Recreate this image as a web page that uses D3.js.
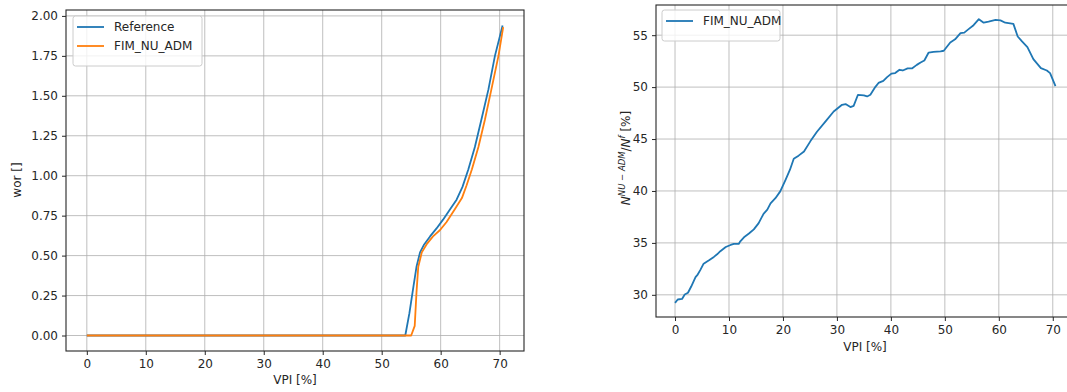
<!DOCTYPE html>
<html>
<head>
  <meta charset="utf-8">
  <title>wor / VPI</title>
  <script src="https://cdn.jsdelivr.net/npm/d3@7/dist/d3.min.js"></script>
  <style>
    body { margin: 0; background: #fff; }
    svg { display: block; font-family: "DejaVu Sans", sans-serif; }
  </style>
</head>
<body>
<svg id="mainsvg" width="1067" height="392"></svg>
<script>
  // left panel: wor vs VPI
  const refVPI = [0, 54.0, 54.7, 55.4, 55.9, 56.5, 57.2, 58.2, 59.3, 60.4, 61.6, 62.7, 63.7, 64.7, 65.8, 66.9, 68.1, 69.2, 70.5];
  const refWor = [0, 0, 0.14, 0.31, 0.43, 0.52, 0.57, 0.62, 0.67, 0.725, 0.79, 0.85, 0.93, 1.04, 1.18, 1.35, 1.54, 1.75, 1.94];
  const admVPI = [0, 55.0, 55.6, 55.9, 56.2, 56.8, 57.6, 58.7, 59.9, 61.0, 62.4, 63.6, 64.4, 65.3, 66.4, 67.5, 68.6, 69.8, 70.6];
  const admWor = [0, 0, 0.06, 0.27, 0.43, 0.52, 0.57, 0.62, 0.66, 0.71, 0.79, 0.86, 0.94, 1.04, 1.18, 1.35, 1.54, 1.75, 1.93];

  // right panel: N^NU-ADM / N^f vs VPI
  const ratioVPI = [0, 0.5, 1.3, 1.8, 2.4, 3.0, 3.8, 4.2, 4.7, 5.3, 6.3, 7.2, 7.8, 8.4, 9.4, 10.3, 10.9, 11.8, 12.1,
    12.9, 13.7, 14.6, 15.5, 16.4, 17.1, 17.7, 18.6, 19.5, 20.5, 21.3, 22.0, 22.9, 23.9, 25.1, 26.3, 27.9, 29.4,
    30.95, 31.6, 32.5, 33.1, 33.9, 35.0, 35.6, 36.2, 37.1, 37.7, 38.6, 39.3, 40.1, 40.8, 41.6, 42.2, 43.1, 43.9,
    44.8, 45.5, 46.2, 47.0, 47.9, 49.2, 49.8, 51.0, 51.9, 52.9, 53.6, 54.4, 55.2, 56.3, 57.2, 58.1, 59.4, 60.3,
    61.2, 62.7, 63.5, 64.3, 65.3, 66.4, 67.8, 68.9, 69.5, 70.5];
  const ratioPct = [29.23, 29.55, 29.6, 30.03, 30.2, 30.8, 31.7, 31.95, 32.4, 33.0, 33.33, 33.65, 33.9, 34.2, 34.6, 34.8, 34.9, 34.9, 35.15,
    35.6, 35.9, 36.3, 36.9, 37.8, 38.2, 38.8, 39.3, 39.96, 41.1, 42.05, 43.1, 43.4, 43.8, 44.8, 45.7, 46.7, 47.65,
    48.3, 48.37, 48.08, 48.2, 49.26, 49.2, 49.1, 49.26, 50.0, 50.4, 50.6, 50.96, 51.3, 51.35, 51.67, 51.6, 51.8, 51.8,
    52.14, 52.37, 52.56, 53.33, 53.4, 53.45, 53.5, 54.3, 54.6, 55.2, 55.25, 55.58, 55.9, 56.54, 56.2, 56.3, 56.47, 56.43,
    56.2, 56.09, 54.87, 54.4, 53.85, 52.7, 51.83, 51.6, 51.35, 50.1];

  const xTicks = [0, 10, 20, 30, 40, 50, 60, 70];
  const leftYTicks = [0, 0.25, 0.5, 0.75, 1.0, 1.25, 1.5, 1.75, 2.0];
  const rightYTicks = [30, 35, 40, 45, 50, 55];

  const C0 = '#1f77b4', C1 = '#ff7f0e';
  const svg = d3.select('#mainsvg');

  // matplotlib-style 5% padding
  function padded(vals) {
    const [a, b] = d3.extent(vals);
    const m = (b - a) * 0.05;
    return [a - m, b + m];
  }

  function panel(box, xVals, yVals, yTicks, yFmt) {
    const g = svg.append('g');
    const x = d3.scaleLinear().domain(padded(xVals)).range([box.left, box.right]);
    const y = d3.scaleLinear().domain(padded(yVals)).range([box.bottom, box.top]);

    // grid
    g.append('g').selectAll('line').data(xTicks).join('line')
      .attr('x1', d => x(d)).attr('x2', d => x(d))
      .attr('y1', box.top).attr('y2', box.bottom)
      .attr('stroke', '#b0b0b0').attr('stroke-width', 1).attr('opacity', 0.8);
    g.append('g').selectAll('line').data(yTicks).join('line')
      .attr('x1', box.left).attr('x2', box.right)
      .attr('y1', d => y(d)).attr('y2', d => y(d))
      .attr('stroke', '#b0b0b0').attr('stroke-width', 1).attr('opacity', 0.8);

    // axes
    const xa = g.append('g').attr('transform', `translate(0,${box.bottom})`)
      .call(d3.axisBottom(x).tickValues(xTicks).tickSize(4).tickPadding(4).tickFormat(d3.format('d')));
    const ya = g.append('g').attr('transform', `translate(${box.left},0)`)
      .call(d3.axisLeft(y).tickValues(yTicks).tickSize(4).tickPadding(4).tickFormat(yFmt));
    [xa, ya].forEach(a => {
      a.select('.domain').remove();
      a.selectAll('text').attr('font-size', 12).attr('fill', '#262626')
        .attr('font-family', '"DejaVu Sans", sans-serif');
      a.selectAll('line').attr('stroke', '#262626');
    });

    // frame
    g.append('rect')
      .attr('x', box.left).attr('y', box.top)
      .attr('width', box.right - box.left).attr('height', box.bottom - box.top)
      .attr('fill', 'none').attr('stroke', '#262626').attr('stroke-width', 1.1);

    return { g, x, y };
  }

  function drawLine(p, xs, ys, color) {
    const pts = xs.map((v, i) => [v, ys[i]]);
    p.g.append('path').datum(pts)
      .attr('fill', 'none').attr('stroke', color).attr('stroke-width', 1.8)
      .attr('stroke-linejoin', 'round')
      .attr('d', d3.line().x(d => p.x(d[0])).y(d => p.y(d[1])));
  }

  function legend(g, x, y, w, items) {
    const h = 12 + items.length * 19;
    g.append('rect').attr('x', x).attr('y', y).attr('width', w).attr('height', h)
      .attr('rx', 2.5).attr('fill', '#fff').attr('fill-opacity', 0.8)
      .attr('stroke', '#cccccc').attr('stroke-width', 1);
    items.forEach((it, i) => {
      const cy = y + 11 + i * 19;
      g.append('line').attr('x1', x + 4).attr('x2', x + 31).attr('y1', cy).attr('y2', cy)
        .attr('stroke', it.color).attr('stroke-width', 1.8);
      g.append('text').attr('x', x + 41).attr('y', cy).attr('dy', '0.35em')
        .attr('font-size', 12).attr('fill', '#262626').text(it.label);
    });
  }

  // ---- left panel
  const left = panel({ left: 66, right: 524, top: 10, bottom: 351 },
    refVPI.concat(admVPI), refWor.concat(admWor), leftYTicks, d3.format('.2f'));
  drawLine(left, refVPI, refWor, C0);
  drawLine(left, admVPI, admWor, C1);
  legend(left.g, 73, 16, 129, [{ label: 'Reference', color: C0 }, { label: 'FIM_NU_ADM', color: C1 }]);

  svg.append('text').attr('x', 295).attr('y', 384).attr('text-anchor', 'middle')
    .attr('font-size', 12).attr('fill', '#262626').text('VPI [%]');
  svg.append('text').attr('transform', 'translate(21,180) rotate(-90)').attr('text-anchor', 'middle')
    .attr('font-size', 12).attr('fill', '#262626').text('wor []');

  // ---- right panel (spills past the window edge, as in the source)
  const right = panel({ left: 656, right: 1074.5, top: 5, bottom: 317 },
    ratioVPI, ratioPct, rightYTicks, d3.format('d'));
  drawLine(right, ratioVPI, ratioPct, C0);
  legend(right.g, 662, 10, 118, [{ label: 'FIM_NU_ADM', color: C0 }]);

  svg.append('text').attr('x', 865).attr('y', 351).attr('text-anchor', 'middle')
    .attr('font-size', 12).attr('fill', '#262626').text('VPI [%]');

  const yl = svg.append('text').attr('transform', 'translate(630,158) rotate(-90)')
    .attr('text-anchor', 'middle').attr('font-size', 12).attr('fill', '#262626');
  yl.append('tspan').attr('font-style', 'italic').text('N');
  yl.append('tspan').attr('font-style', 'italic').attr('font-size', 8.5).attr('dy', -5).text('NU − ADM');
  yl.append('tspan').attr('dy', 5).text('/');
  yl.append('tspan').attr('font-style', 'italic').text('N');
  yl.append('tspan').attr('font-style', 'italic').attr('font-size', 8.5).attr('dy', -5).text('f');
  yl.append('tspan').attr('dy', 5).text(' [%]');
</script>
</body>
</html>
